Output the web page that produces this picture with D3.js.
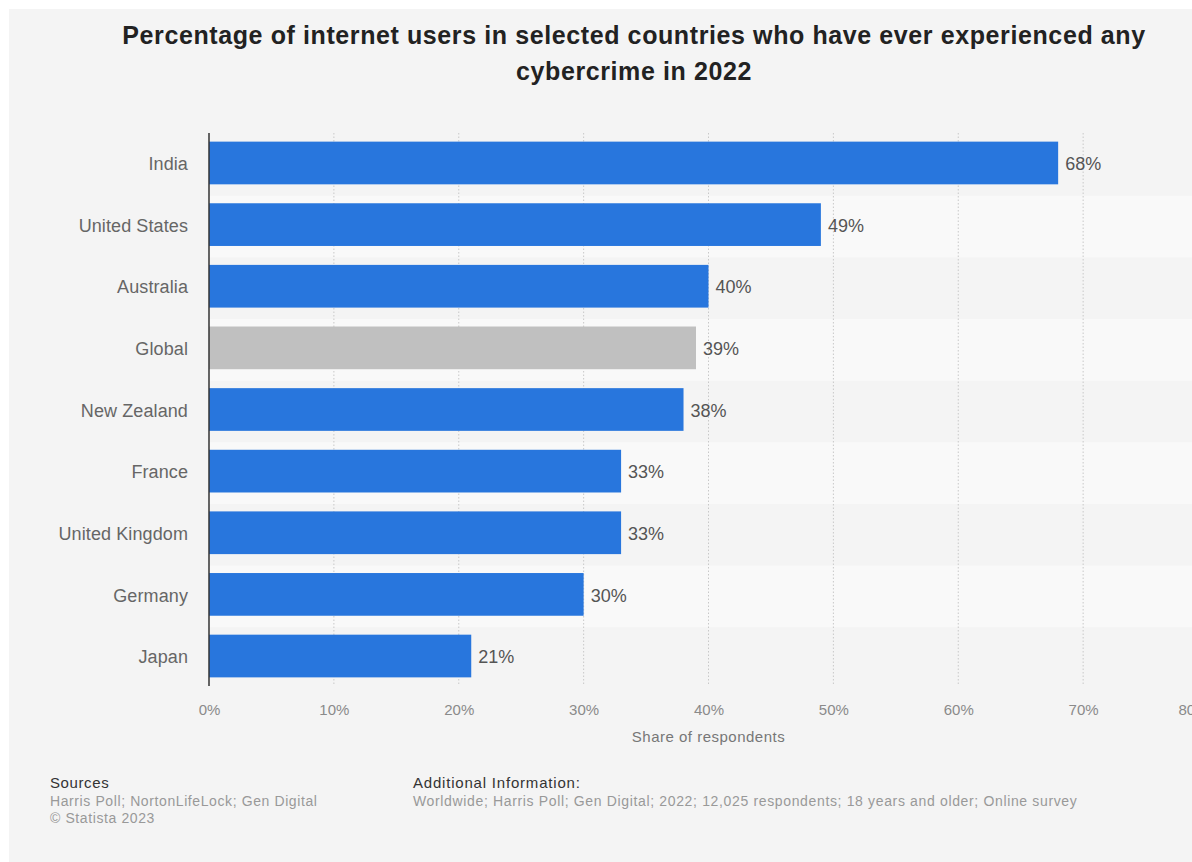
<!DOCTYPE html>
<html>
<head>
<meta charset="utf-8">
<script src="https://cdn.jsdelivr.net/npm/d3@7"></script>
<style>
  html, body { margin: 0; padding: 0; background: #ffffff; }
  svg { display: block; font-family: "Liberation Sans", Arial, Helvetica, sans-serif; }
</style>
</head>
<body>
<svg id="chart" width="1192" height="862"></svg>
<script>
const categories = ["India", "United States", "Australia", "Global", "New Zealand", "France", "United Kingdom", "Germany", "Japan"];
const values = [68, 49, 40, 39, 38, 33, 33, 30, 21];
const highlight = ["Global"];
const tickValues = [0, 10, 20, 30, 40, 50, 60, 70, 80];
const titleLines = ["Percentage of internet users in selected countries who have ever experienced any", "cybercrime in 2022"];
const axisTitle = "Share of respondents";
const sourcesLines = ["Harris Poll; NortonLifeLock; Gen Digital", "© Statista 2023"];
const additionalInfo = "Worldwide; Harris Poll; Gen Digital; 2022; 12,025 respondents; 18 years and older; Online survey";

const data = categories.map((c, i) => ({ name: c, value: values[i] }));

const svg = d3.select("#chart");
const W = 1192, H = 862;

// panel background
svg.append("rect").attr("x", 9).attr("y", 9).attr("width", W - 9).attr("height", H - 9).attr("fill", "#f4f4f4");

// title
const title = svg.append("text").attr("text-anchor", "middle").attr("font-weight", "bold")
  .attr("font-size", 25).attr("letter-spacing", 0.6).attr("fill", "#222");
titleLines.forEach((t, i) => {
  title.append("tspan").attr("x", 634).attr("y", 44 + i * 36).text(t);
});

const pLeft = 209, pRight = 1208, pTop = 133, pBottom = 686;
const x = d3.scaleLinear().domain([0, 80]).range([pLeft, pRight]);
const y = d3.scaleBand().domain(categories).range([pTop, pBottom]).paddingInner(0.307).paddingOuter(0.14);
const step = y.step();

// stripes
svg.append("g").selectAll("rect").data(categories.filter((d, i) => i % 2 === 1)).join("rect")
  .attr("x", pLeft).attr("y", d => y(d) + y.bandwidth() / 2 - step / 2 + 2)
  .attr("width", W - pLeft).attr("height", step)
  .attr("fill", "#f9f9f9");

// gridlines
svg.append("g").selectAll("line").data(tickValues.filter(v => v > 0)).join("line")
  .attr("x1", d => x(d)).attr("x2", d => x(d)).attr("y1", pTop).attr("y2", pBottom)
  .attr("stroke", "#c8c8c8").attr("stroke-width", 1).attr("stroke-dasharray", "1.5,2");

// bars
svg.append("g").selectAll("rect").data(data).join("rect")
  .attr("x", x(0)).attr("y", d => y(d.name))
  .attr("width", d => x(d.value) - x(0)).attr("height", y.bandwidth())
  .attr("fill", d => highlight.includes(d.name) ? "#c0c0c0" : "#2876dd");

// value labels
svg.append("g").selectAll("text").data(data).join("text")
  .attr("x", d => x(d.value) + 7).attr("y", d => y(d.name) + y.bandwidth() / 2)
  .attr("dy", "0.4em").attr("font-size", 18).attr("fill", "#555")
  .text(d => d.value + "%");

// y axis
const yAxis = d3.axisLeft(y).tickSize(0).tickPadding(21);
const gy = svg.append("g").attr("transform", `translate(${pLeft},0)`).call(yAxis);
gy.select(".domain").remove();
gy.selectAll("text").attr("font-size", 18).attr("letter-spacing", 0.1).attr("fill", "#666")
  .attr("dy", "0.4em").attr("font-family", "Liberation Sans, Arial, sans-serif");
svg.append("line").attr("x1", pLeft).attr("x2", pLeft).attr("y1", pTop).attr("y2", pBottom)
  .attr("stroke", "#333").attr("stroke-width", 1.5);

// x axis
const xAxis = d3.axisBottom(x).tickValues(tickValues).tickFormat(d => d + "%").tickSize(0).tickPadding(18);
const gx = svg.append("g").attr("transform", `translate(0,${pBottom})`).call(xAxis);
gx.select(".domain").remove();
gx.selectAll("text").attr("font-size", 15).attr("fill", "#8a8a8a").attr("font-family", "Liberation Sans, Arial, sans-serif")
  .attr("text-anchor", d => d === tickValues[tickValues.length - 1] ? "end" : "middle");

svg.append("text").attr("x", (x(0) + x(80)) / 2).attr("y", 742).attr("text-anchor", "middle")
  .attr("font-size", 15).attr("letter-spacing", 0.5).attr("fill", "#777").text(axisTitle);

// footer
svg.append("text").attr("x", 50).attr("y", 787.5).attr("font-size", 15).attr("letter-spacing", 0.6).attr("fill", "#333").text("Sources");
sourcesLines.forEach((t, i) => {
  svg.append("text").attr("x", 50).attr("y", 806 + i * 17).attr("font-size", 14).attr("letter-spacing", 0.6).attr("fill", "#999").text(t);
});
svg.append("text").attr("x", 413).attr("y", 787.5).attr("font-size", 15).attr("letter-spacing", 0.8).attr("fill", "#333").text("Additional Information:");
svg.append("text").attr("x", 413).attr("y", 806).attr("font-size", 14).attr("letter-spacing", 0.65).attr("fill", "#999").text(additionalInfo);
</script>
</body>
</html>
